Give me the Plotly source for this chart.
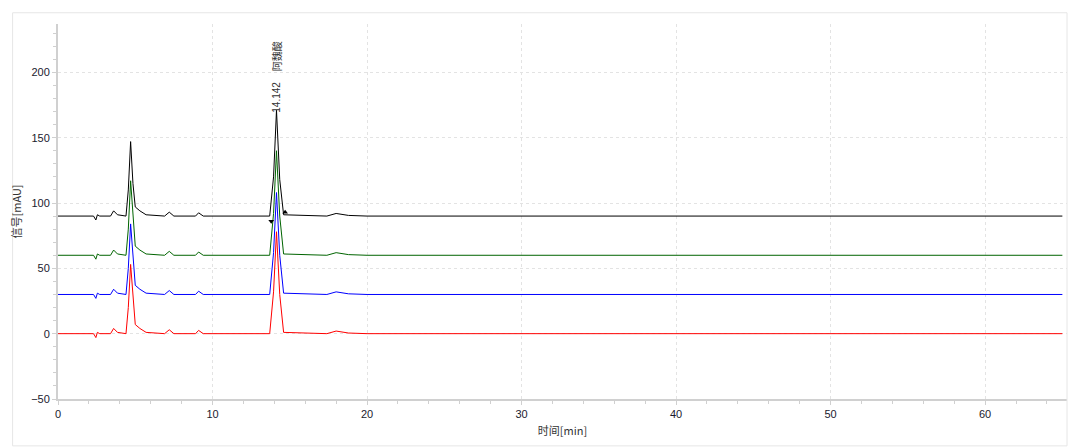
import plotly.graph_objects as go

# retention time points (min)
t = [0, 2.3, 2.45, 2.55, 2.7, 3.4, 3.6, 3.85, 4.4, 4.55, 4.7, 4.85, 5.0, 5.3, 5.7,
     6.9, 7.2, 7.5, 8.9, 9.1, 9.4, 13.7, 13.95, 14.14, 14.35, 14.6, 17.4, 18.0, 18.8, 20, 65]

black = [90, 90, 87, 91, 90, 90, 94, 91, 90, 110, 147, 115, 97, 94, 91,
         90, 93, 90, 90, 92.5, 90, 90, 120, 171, 118, 91, 90, 92, 90.5, 90, 90]
green = [60, 60, 57, 61, 60, 60, 64, 61, 60, 80, 117, 88, 67, 64, 61,
         60, 63, 60, 60, 62.5, 60, 60, 92, 140, 90, 61, 60, 62, 60.5, 60, 60]
blue = [30, 30, 27, 31, 30, 30, 34, 31, 30, 50, 84, 56, 37, 34, 31,
        30, 33, 30, 30, 32.5, 30, 30, 62, 108, 60, 31, 30, 32, 30.5, 30, 30]
red = [0, 0, -3, 1, 0, 0, 4, 1, 0, 20, 53, 26, 7, 4, 1,
       0, 3, 0, 0, 2.5, 0, 0, 32, 78, 30, 1, 0, 2, 0.5, 0, 0]

peak_rt = 14.142
peak_name = "阿魏酸"
arrow_x = [13.8, 14.7]
arrow_y = [86, 93]

fig = go.Figure()
for vals, col in [(red, "#ff0000"), (blue, "#0000ff"), (green, "#006400"), (black, "#000000")]:
    fig.add_trace(go.Scatter(x=t, y=vals, mode="lines", line=dict(color=col, width=1),
                             showlegend=False))

fig.add_trace(go.Scatter(x=arrow_x, y=arrow_y, mode="markers", showlegend=False,
                         marker=dict(symbol=["triangle-down", "triangle-up"], size=5, color="black")))

fig.add_annotation(x=peak_rt, y=181, text=f"{peak_rt:.3f}", textangle=-90, showarrow=False,
                   font=dict(family="Liberation Sans", size=10, color="#333"))
fig.add_annotation(x=peak_rt, y=212, text=peak_name, textangle=-90, showarrow=False,
                   font=dict(size=10, color="#333"))

axis_common = dict(showgrid=True, gridcolor="#e3e3e3", griddash="dot", automargin=False,
                   showline=True, linecolor="#d0d0d0", linewidth=2, ticks="outside", ticklen=4,
                   tickcolor="#d0d0d0", zeroline=False,
                   tickfont=dict(family="Liberation Sans", size=11, color="#1a1a2e"))
fig.update_xaxes(range=[0, 65.3], dtick=10,
                 minor=dict(dtick=2, ticks="outside", ticklen=3, tickcolor="#d0d0d0"),
                 title=dict(text="时间[min]", standoff=8, font=dict(size=11)), **axis_common)
fig.update_yaxes(range=[-50, 237], dtick=50,
                 minor=dict(dtick=10, ticks="outside", ticklen=3, tickcolor="#d0d0d0"),
                 title=dict(text="信号[mAU]", standoff=12, font=dict(size=11)), **axis_common)

fig.add_shape(type="rect", xref="paper", yref="paper", x0=-0.045, x1=1.0, y0=-0.125, y1=1.03,
              line=dict(color="#e6e6e6", width=1))

fig.update_layout(width=1080, height=448, margin=dict(l=50, r=21, t=16, b=57),
                  plot_bgcolor="white", paper_bgcolor="white",
                  font=dict(family="Noto Sans CJK SC, Arial", size=11, color="#333"))

fig.write_html("out.html")
